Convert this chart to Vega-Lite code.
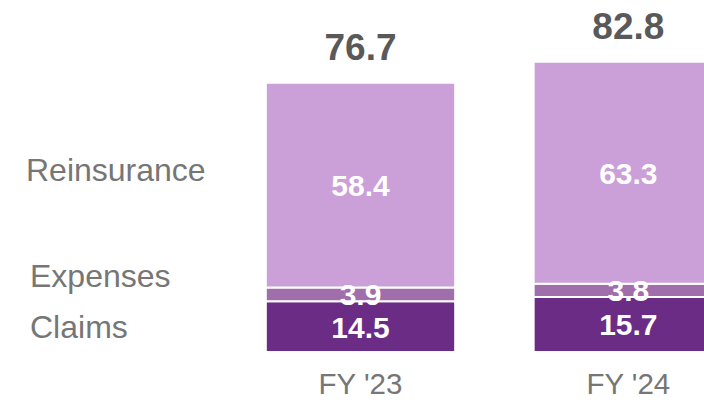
{
  "$schema": "https://vega.github.io/schema/vega-lite/v6.json",
  "width": 704,
  "height": 352,
  "autosize": {"type": "none"},
  "padding": {"left": 0, "top": 0, "right": 0, "bottom": 48},
  "background": "white",
  "config": {"view": {"stroke": null}, "font": "Liberation Sans"},
  "datasets": {
    "segments": [
      {"year": "FY '23", "series": "Claims", "value": 14.5},
      {"year": "FY '23", "series": "Expenses", "value": 3.9},
      {"year": "FY '23", "series": "Reinsurance", "value": 58.4},
      {"year": "FY '24", "series": "Claims", "value": 15.7},
      {"year": "FY '24", "series": "Expenses", "value": 3.8},
      {"year": "FY '24", "series": "Reinsurance", "value": 63.3}
    ],
    "totals": [
      {"year": "FY '23", "total": 76.7},
      {"year": "FY '24", "total": 82.8}
    ]
  },
  "layer": [
    {
      "data": {"name": "segments"},
      "mark": {"type": "bar", "stroke": "white", "strokeWidth": 2, "clip": true},
      "encoding": {
        "x": {
          "field": "year", "type": "nominal",
          "scale": {"domain": [" ", "FY '23", "FY '24"], "range": [-2, 723], "paddingInner": 0.293, "paddingOuter": 0},
          "axis": {"title": null, "domain": false, "ticks": false, "tickSize": 0, "grid": false, "labelAngle": 0, "labelPadding": 41, "labelBaseline": "alphabetic", "labelFontSize": 29.5, "labelColor": "#767676", "labelFont": "Liberation Sans"}
        },
        "y": {"field": "value", "type": "quantitative", "stack": "zero", "scale": {"domain": [0, 100.4], "nice": false, "zero": true}, "axis": null},
        "color": {"field": "series", "type": "nominal", "scale": {"domain": ["Claims", "Expenses", "Reinsurance"], "range": ["#6B2C86", "#A06EAA", "#CBA0D8"]}, "legend": null},
        "order": {"field": "series", "sort": "ascending"}
      }
    },
    {
      "data": {"name": "segments"},
      "mark": {"type": "text", "color": "white", "fontWeight": "bold", "fontSize": 30, "align": "center", "baseline": "middle", "dy": 2},
      "encoding": {
        "x": {"field": "year", "type": "nominal"},
        "y": {"field": "value", "type": "quantitative", "stack": "zero", "bandPosition": 0.5},
        "detail": {"field": "series", "type": "nominal"},
        "order": {"field": "series", "sort": "ascending"},
        "text": {"field": "value", "type": "quantitative", "format": ".1f"}
      }
    },
    {
      "data": {"name": "totals"},
      "mark": {"type": "text", "color": "#595959", "fontWeight": "bold", "fontSize": 37, "align": "center", "baseline": "middle", "dy": -34},
      "encoding": {
        "x": {"field": "year", "type": "nominal"},
        "y": {"field": "total", "type": "quantitative"},
        "text": {"field": "total", "type": "quantitative", "format": ".1f"}
      }
    },
    {
      "data": {"name": "segments"},
      "transform": [{"filter": "datum.year === \"FY '23\""}],
      "mark": {"type": "text", "color": "#767676", "fontSize": 32, "align": "left", "baseline": "middle", "dx": 28, "dy": -14},
      "encoding": {
        "x": {"datum": " ", "type": "nominal", "bandPosition": 0},
        "y": {"field": "value", "type": "quantitative", "stack": "zero", "bandPosition": 0.5},
        "detail": {"field": "series", "type": "nominal"},
        "order": {"field": "series", "sort": "ascending"},
        "text": {"condition": {"test": "datum.series === 'Reinsurance'", "field": "series", "type": "nominal"}, "value": ""}
      }
    },
    {
      "data": {"name": "segments"},
      "transform": [{"filter": "datum.year === \"FY '23\""}],
      "mark": {"type": "text", "color": "#767676", "fontSize": 32, "align": "left", "baseline": "middle", "dx": 32, "dy": -17},
      "encoding": {
        "x": {"datum": " ", "type": "nominal", "bandPosition": 0},
        "y": {"field": "value", "type": "quantitative", "stack": "zero", "bandPosition": 0.5},
        "detail": {"field": "series", "type": "nominal"},
        "order": {"field": "series", "sort": "ascending"},
        "text": {"condition": {"test": "datum.series === 'Expenses'", "field": "series", "type": "nominal"}, "value": ""}
      }
    },
    {
      "data": {"name": "segments"},
      "transform": [{"filter": "datum.year === \"FY '23\""}],
      "mark": {"type": "text", "color": "#767676", "fontSize": 32, "align": "left", "baseline": "middle", "dx": 32, "dy": 1},
      "encoding": {
        "x": {"datum": " ", "type": "nominal", "bandPosition": 0},
        "y": {"field": "value", "type": "quantitative", "stack": "zero", "bandPosition": 0.5},
        "detail": {"field": "series", "type": "nominal"},
        "order": {"field": "series", "sort": "ascending"},
        "text": {"condition": {"test": "datum.series === 'Claims'", "field": "series", "type": "nominal"}, "value": ""}
      }
    }
  ]
}
